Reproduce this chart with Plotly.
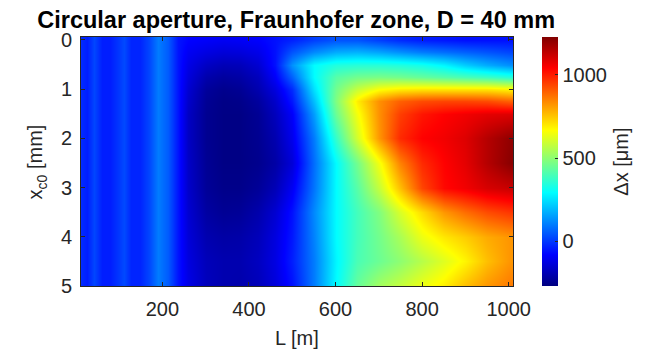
import plotly.graph_objects as go

# Axis coordinates
L_m = [13, 25, 42, 60, 80, 100, 112, 128, 148, 168, 190, 212, 235,
       260, 300, 340, 380, 420, 460, 500, 550, 600, 650, 700, 750, 800, 850, 900, 950, 1000]
xc0_mm = [0, 0.25, 0.5, 0.75, 1.0, 1.25, 1.5, 2.0, 2.5, 3.0, 3.5, 4.0, 4.5, 5.0]

# Stripe profile for short distances (L = 13 ... 235 m), same for every row
left_profile = [-20, -40, 20, -40, -40, 0, 25, -30, -30, 20, 100, 50, -55]

# Values for L = 260 ... 1000 m, one list per x_c0 row
dx_0_00 = [-80, -90, -100, -95, -85, -60, -35, 10, 40, 40, 10, -20, -40, -50, -60, -60, -60]
dx_0_25 = [-100, -125, -140, -135, -115, -60, 40, 120, 170, 180, 160, 130, 100, 80, 60, 40, 20]
dx_0_50 = [-120, -170, -190, -185, -150, -60, 130, 290, 340, 350, 350, 340, 320, 280, 220, 170, 130]
dx_0_75 = [-135, -205, -225, -215, -180, -90, 60, 290, 420, 460, 470, 460, 440, 420, 400, 380, 350]
dx_1_00 = [-150, -230, -250, -240, -200, -130, -20, 250, 460, 580, 660, 690, 700, 700, 700, 700, 680]
dx_1_25 = [-160, -240, -260, -255, -225, -160, -50, 200, 480, 690, 830, 900, 930, 940, 940, 930, 900]
dx_1_50 = [-170, -245, -262, -262, -240, -180, -90, 150, 450, 650, 830, 950, 1010, 1040, 1060, 1080, 1090]
dx_2_00 = [-170, -245, -262, -262, -245, -200, -110, 100, 370, 600, 820, 980, 1040, 1060, 1090, 1150, 1200]
dx_2_50 = [-165, -240, -262, -262, -250, -215, -140, 80, 290, 460, 650, 850, 980, 1040, 1080, 1150, 1210]
dx_3_00 = [-160, -235, -255, -255, -235, -190, -100, 90, 290, 420, 580, 760, 940, 1030, 1060, 1100, 1120]
dx_3_50 = [-150, -220, -240, -235, -205, -150, -60, 120, 290, 390, 480, 610, 720, 820, 880, 930, 960]
dx_4_00 = [-140, -200, -215, -210, -185, -130, -50, 110, 290, 390, 460, 540, 640, 700, 740, 790, 820]
dx_4_50 = [-130, -185, -200, -200, -175, -125, -40, 100, 280, 400, 450, 500, 560, 620, 680, 760, 820]
dx_5_00 = [-120, -180, -200, -205, -185, -135, -60, 100, 290, 440, 530, 580, 640, 690, 760, 820, 860]

right_rows = [dx_0_00, dx_0_25, dx_0_50, dx_0_75, dx_1_00, dx_1_25, dx_1_50,
              dx_2_00, dx_2_50, dx_3_00, dx_3_50, dx_4_00, dx_4_50, dx_5_00]
z = [left_profile + r for r in right_rows]

cmin, cmax = -270, 1228
x_ticks = [200, 400, 600, 800, 1000]
y_ticks = [0, 1, 2, 3, 4, 5]
cbar_ticks = [0, 500, 1000]

jet = [[0.0, "rgb(0,0,128)"], [0.125, "rgb(0,0,255)"], [0.375, "rgb(0,255,255)"],
       [0.625, "rgb(255,255,0)"], [0.875, "rgb(255,0,0)"], [1.0, "rgb(128,0,0)"]]

FONT = "Liberation Sans, Arial, sans-serif"
TXT = "#262626"

fig = go.Figure(go.Heatmap(
    x=L_m, y=xc0_mm, z=z, zmin=cmin, zmax=cmax, colorscale=jet, zsmooth="best",
    colorbar=dict(
        x=1.067, xanchor="left", xpad=0, y=0.5, yanchor="middle", ypad=0,
        len=1, lenmode="fraction", thickness=16, outlinewidth=0,
        tickvals=cbar_ticks, ticks="inside", ticklen=3, tickcolor=TXT,
        tickfont=dict(family=FONT, size=20, color=TXT),
    ),
))

fig.update_layout(
    width=648, height=349,
    margin=dict(l=81, r=135, t=37, b=63, autoexpand=False),
    paper_bgcolor="white", plot_bgcolor="white",
    title=dict(text="<b>Circular aperture, Fraunhofer zone, D = 40 mm</b>",
               x=0.457, xanchor="center", y=0.966, yanchor="top",
               font=dict(family=FONT, size=23.5, color="black")),
    font=dict(family=FONT, size=20, color=TXT),
    annotations=[
        dict(text="L [m]", x=0.5, y=-0.209, xref="paper", yref="paper",
             xanchor="center", yanchor="middle", showarrow=False,
             font=dict(family=FONT, size=20, color=TXT)),
        dict(text="x<sub>c0</sub> [mm]", x=-0.102, y=0.5, xref="paper", yref="paper",
             xanchor="center", yanchor="middle", textangle=-90, showarrow=False,
             font=dict(family=FONT, size=20, color=TXT)),
        dict(text="Δx [μm]", x=1.248, y=0.5, xref="paper", yref="paper",
             xanchor="center", yanchor="middle", textangle=-90, showarrow=False,
             font=dict(family=FONT, size=20, color=TXT)),
    ],
)
fig.update_xaxes(range=[12, 1010], tickvals=x_ticks, ticks="inside", ticklen=4,
                 tickcolor=TXT, showline=True, linecolor=TXT, linewidth=0.6, mirror="ticks",
                 showgrid=False, zeroline=False, automargin=False, ticklabelstandoff=5,
                 tickfont=dict(size=20, color=TXT))
fig.update_yaxes(range=[5.0, -0.06], tickvals=y_ticks, ticks="inside", ticklen=4,
                 tickcolor=TXT, showline=True, linecolor=TXT, linewidth=0.6, mirror="ticks",
                 showgrid=False, zeroline=False, automargin=False, ticklabelstandoff=4,
                 tickfont=dict(size=20, color=TXT))

fig.write_html("out.html", config={"displayModeBar": False},
               post_script="document.body.style.margin='0';")
